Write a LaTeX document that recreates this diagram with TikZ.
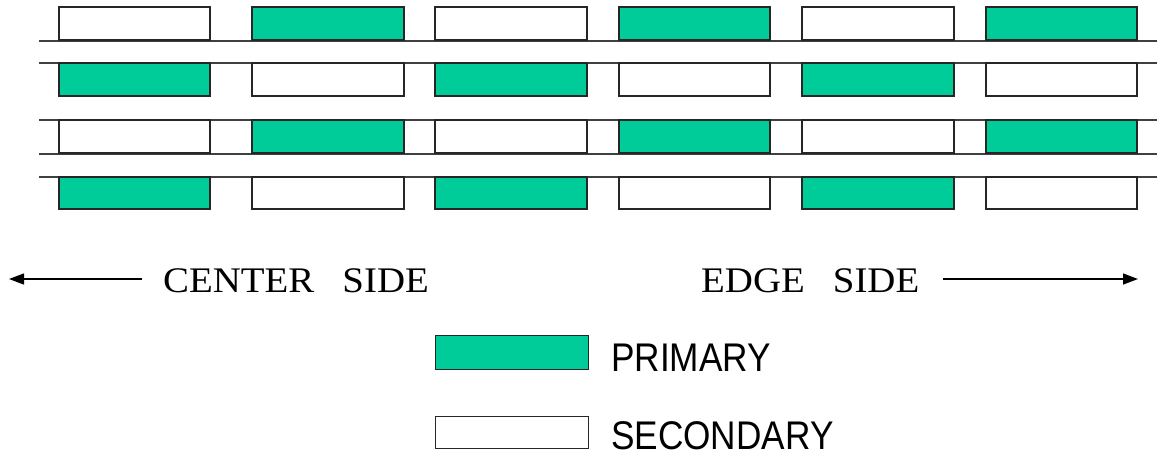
\documentclass[tikz,border=0pt]{standalone}
\usepackage{fontspec}
\setmainfont{Liberation Serif}
\newfontfamily\legendfont{Liberation Sans}
\usetikzlibrary{arrows.meta}
\definecolor{primgreen}{HTML}{00CC99}
\begin{document}
\begin{tikzpicture}[x=1pt,y=-1pt,
  cell/.style={draw=black!85,line width=1.2pt},
  primcell/.style={cell,fill=primgreen},
  seccell/.style={cell,fill=white},
  rail/.style={draw=black!75,line width=1.4pt},
  sidelabel/.style={anchor=base west,inner sep=0pt,font=\fontsize{36}{40}\selectfont},
  legendlabel/.style={anchor=base west,inner sep=0pt,font=\legendfont\fontsize{40}{44}\selectfont},
  sidearrow/.style={line width=1.3pt,-{Triangle[length=15pt,width=11pt]}}]
\useasboundingbox[fill=white] (0,0) rectangle (1157,456);
% rails
\foreach \y in {41,63,120,154,177}
  \draw[rail] (39,\y) -- (1157,\y);
% cells
\foreach \r/\ya/\yb in {0/7/40,1/63/96,2/120/153,3/177/209}{
  \foreach \c/\xa/\xb in {0/59/210,1/252/404,2/435/587,3/619/770,4/802/954,5/986/1137}{
    \pgfmathtruncatemacro{\cellparity}{mod(\r+\c,2)}
    \ifnum\cellparity=1
      \draw[primcell] (\xa,\ya) rectangle (\xb,\yb);
    \else
      \draw[seccell] (\xa,\ya) rectangle (\xb,\yb);
    \fi
  }
}
% side labels and arrows
\node[sidelabel] (center) at (163,292) {\scalebox{1.08}[1]{CENTER\hspace{26pt}SIDE}};
\node[sidelabel] (edge) at (701,292) {\scalebox{1.08}[1]{EDGE\hspace{26pt}SIDE}};
\coordinate (leftstart) at (142,279);
\coordinate (leftend) at (9,279);
\coordinate (rightstart) at (943,279);
\coordinate (rightend) at (1138,279);
\draw[sidearrow] (leftstart) -- (leftend);
\draw[sidearrow] (rightstart) -- (rightend);
% legend
\node[primcell,anchor=north west,inner sep=0pt,minimum width=153pt,minimum height=34pt] (primbox) at (435,335) {};
\node[seccell,anchor=north west,inner sep=0pt,minimum width=153pt,minimum height=32pt] (secbox) at (435,416) {};
\node[legendlabel] (primary) at (611,371) {\scalebox{0.88}[1]{PRIMARY}};
\node[legendlabel] (secondary) at (611,449) {\scalebox{0.88}[1]{SECONDARY}};
\end{tikzpicture}
\end{document}
